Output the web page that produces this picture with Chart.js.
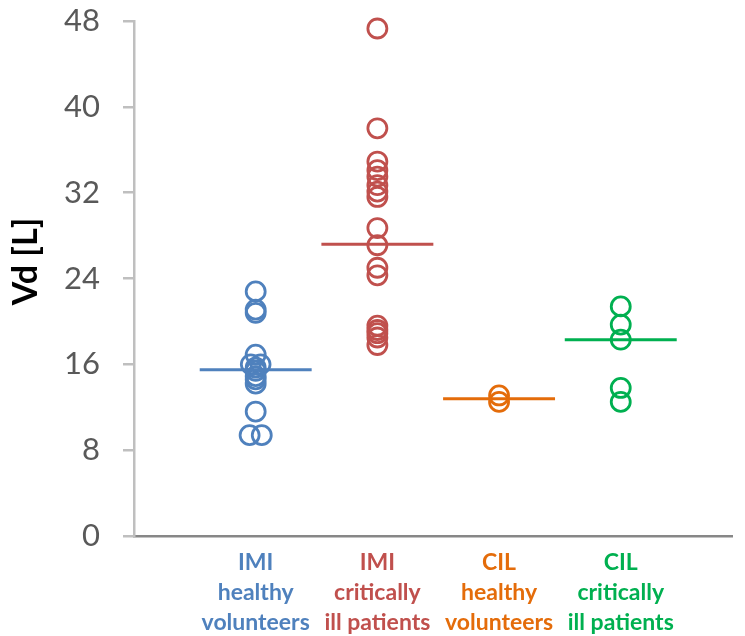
<!DOCTYPE html>
<html>
<head>
<meta charset="utf-8">
<script src="https://cdn.jsdelivr.net/npm/chart.js@4/dist/chart.umd.min.js"></script>
<style>
  html, body { margin: 0; padding: 0; background: #ffffff; }
  #wrap { width: 745px; height: 636px; }
</style>
</head>
<body>
<div id="wrap"><canvas id="c"></canvas></div>
<script>
// Group labels (one line per array entry) and colours
const groupLabels = [
  ['IMI', 'healthy', 'volunteers'],
  ['IMI', 'critically', 'ill patients'],
  ['CIL', 'healthy', 'volunteers'],
  ['CIL', 'critically', 'ill patients']
];
const groupColors = ['#4f81bd', '#c0504d', '#e46c0a', '#00b050'];

// Volume of distribution per subject [L]
const imiHealthy   = [22.8, 21.1, 20.8, 16.9, 16.0, 16.0, 15.7, 15.4, 14.9, 14.6, 14.2, 11.6, 9.4, 9.4];
const imiHealthyDx = [0, 0, 0, 0, -0.04, 0.04, 0, 0, 0, 0, 0, 0, -0.05, 0.05];
const imiCritical  = [47.3, 38.0, 34.9, 34.1, 33.5, 32.7, 32.1, 31.6, 28.7, 27.1, 25.0, 24.3, 19.6, 19.2, 18.9, 18.5, 17.8];
const cilHealthy   = [13.1, 12.5];
const cilCritical  = [21.4, 19.7, 18.3, 13.8, 12.5];

// Group medians (horizontal bars)
const medians = [15.5, 27.2, 12.8, 18.3];

// Y-axis ticks
const yTicks = [0, 8, 16, 24, 32, 40, 48];

const groupValues = [imiHealthy, imiCritical, cilHealthy, cilCritical];
const groupDx = [imiHealthyDx, null, null, null];
const halfBar = 0.46;

const datasets = [];
groupValues.forEach((vals, g) => {
  datasets.push({
    type: 'scatter',
    data: vals.map((v, i) => ({ x: g + 1 + (groupDx[g] ? groupDx[g][i] : 0), y: v })),
    pointStyle: 'circle',
    pointRadius: 9.5,
    pointHoverRadius: 9.5,
    pointBorderWidth: 2.8,
    pointBorderColor: groupColors[g],
    pointBackgroundColor: 'rgba(0,0,0,0)',
    clip: false,
    order: 2
  });
});
medians.forEach((m, g) => {
  datasets.push({
    type: 'line',
    data: [{ x: g + 1 - halfBar, y: m }, { x: g + 1 + halfBar, y: m }],
    borderColor: groupColors[g],
    borderWidth: 3,
    pointRadius: 0,
    fill: false,
    order: 1
  });
});

new Chart(document.getElementById('c'), {
  type: 'scatter',
  data: { datasets },
  options: {
    responsive: true,
    maintainAspectRatio: false,
    animation: false,
    events: [],
    layout: { padding: 0 },
    plugins: { legend: { display: false }, tooltip: { enabled: false } },
    scales: {
      x: {
        type: 'linear',
        min: 0,
        max: 4.92,
        afterBuildTicks: (scale) => {
          scale.ticks = groupLabels.map((_, i) => ({ value: i + 1 }));
        },
        afterFit: (scale) => { scale.height = 100; },
        ticks: {
          autoSkip: false,
          maxRotation: 0,
          padding: 12,
          callback: (value) => groupLabels[Math.round(value) - 1] || '',
          color: (ctx) => groupColors[ctx.index] || '#595959',
          font: { family: 'Lato', size: 23, weight: 'bold', lineHeight: '30px' }
        },
        grid: { display: false, drawTicks: false },
        border: { display: true, color: '#878787', width: 2.5 }
      },
      y: {
        type: 'linear',
        min: 0,
        max: 48,
        afterBuildTicks: (scale) => {
          scale.ticks = yTicks.map(v => ({ value: v }));
        },
        afterFit: (scale) => {
          scale.width = 134;
          scale.paddingTop = 21;
          scale.paddingBottom = 0;
        },
        ticks: {
          padding: 23,
          color: '#595959',
          font: { family: 'Lato', size: 31 }
        },
        grid: {
          drawOnChartArea: false,
          drawTicks: true,
          tickLength: 11,
          color: '#bfbfbf',
          lineWidth: 2.5
        },
        border: { display: true, color: '#bfbfbf', width: 2.5 },
        title: {
          display: true,
          text: '\u2002\u2002Vd [L]',
          color: '#000000',
          padding: { top: 6, bottom: 0 },
          font: { family: 'Lato', size: 34, weight: 'bold' }
        }
      }
    }
  }
});
</script>
</body>
</html>
